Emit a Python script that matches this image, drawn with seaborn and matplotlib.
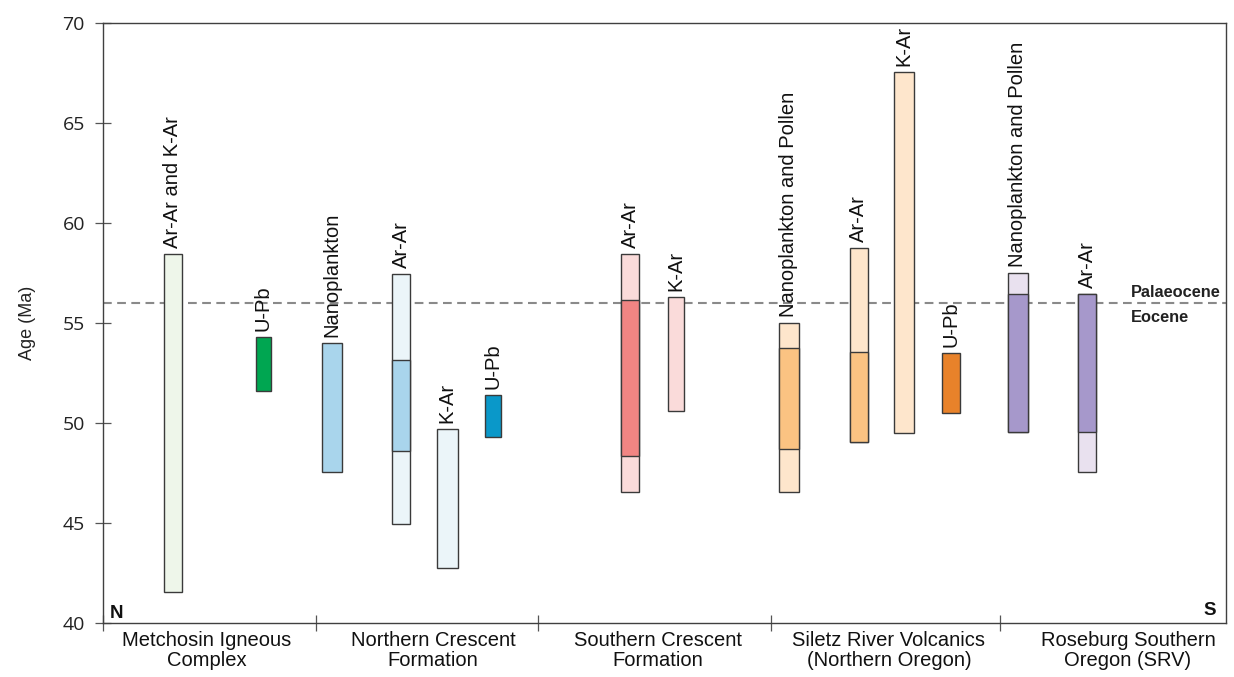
import numpy as np
import matplotlib
matplotlib.use("Agg")
import matplotlib.pyplot as plt
import seaborn as sns

# ---------------------------------------------------------------- data
groups = [
    "Metchosin Igneous\nComplex",
    "Northern Crescent\nFormation",
    "Southern Crescent\nFormation",
    "Siletz River Volcanics\n(Northern Oregon)",
    "Roseburg Southern\nOregon (SRV)",
]

methods = [
    "Ar-Ar and K-Ar", "U-Pb",
    "Nanoplankton", "Ar-Ar", "K-Ar", "U-Pb",
    "Ar-Ar", "K-Ar",
    "Nanoplankton and Pollen", "Ar-Ar", "K-Ar", "U-Pb",
    "Nanoplankton and Pollen", "Ar-Ar",
]
bar_group = [0, 0, 1, 1, 1, 1, 2, 2, 3, 3, 3, 3, 4, 4]

# full age range of each bar (Ma)
age_max = [58.45, 54.3, 54.0, 57.45, 49.7, 51.4, 58.45, 56.3, 55.0, 58.75, 67.55, 53.5, 57.5, 56.45]
age_min = [41.55, 51.6, 47.55, 44.95, 42.75, 49.3, 46.55, 50.6, 46.55, 49.05, 49.5, 50.5, 49.55, 47.55]

# preferred (core) age range inside the bar, nan where there is none
nan = np.nan
core_max = [nan, nan, nan, 53.15, nan, nan, 56.15, nan, 53.75, 53.55, nan, nan, 56.45, 56.45]
core_min = [nan, nan, nan, 48.6, nan, nan, 48.35, nan, 48.7, 49.05, nan, nan, 49.55, 49.55]

# shade used for the full range of each bar
fill_level = ["light", "dark", "mid", "light", "light", "dark",
              "light", "light", "light", "light", "light", "dark",
              "light", "light"]

boundary_age = 56.0  # Palaeocene / Eocene boundary

# ---------------------------------------------------------------- style
palettes = [
    {"light": "#eef6ea", "mid": "#9fd3a5", "dark": "#00a651"},
    {"light": "#ebf5f9", "mid": "#a9d5ec", "dark": "#0a98c9"},
    {"light": "#fadbda", "mid": "#f18583", "dark": "#e0474c"},
    {"light": "#fee6cc", "mid": "#fbc382", "dark": "#e8822a"},
    {"light": "#e9e1ef", "mid": "#a698cb", "dark": "#7d6bb0"},
]

# horizontal layout (axis units span the plot width)
x_span = 1123
bar_x = [69.5, 160, 229, 298, 344, 390, 527, 573, 686, 755.5, 800.5, 847.5, 914.5, 984]
bar_w = [18, 15, 20, 18, 21, 16, 18, 16, 20, 18, 20, 18, 20, 18]
group_edges = [0, 213, 435, 668, 897]
group_label_x = [104, 330, 554.5, 786, 1025]

sns.set_theme(style="white")
plt.rcParams["font.family"] = ["Liberation Sans", "DejaVu Sans"]

edge = "#3a3a3a"
spine_col = "#404040"

fig = plt.figure(figsize=(12.34, 6.77), dpi=100)
ax = fig.add_axes([103 / 1234, 54 / 677, 1123 / 1234, 600 / 677])

# epoch boundary, behind the bars
ax.axhline(boundary_age, color="#8a8a8a", lw=1.5, dashes=(4.2, 2.6), zorder=1)

for i, m in enumerate(methods):
    pal = palettes[bar_group[i]]
    lo, hi = age_min[i], age_max[i]
    ax.bar(bar_x[i], hi - lo, bottom=lo, width=bar_w[i],
           color=pal[fill_level[i]], edgecolor=edge, linewidth=1.0, zorder=3)
    if not np.isnan(core_max[i]):
        ax.bar(bar_x[i], core_max[i] - core_min[i], bottom=core_min[i],
               width=bar_w[i], color=pal["mid"], edgecolor=edge,
               linewidth=1.0, zorder=4)
    ax.annotate(m, (bar_x[i], hi), xytext=(0, 4.5), textcoords="offset points",
                rotation=90, ha="center", va="bottom", fontsize=14.5,
                color="#111111", zorder=5)

ax.set_xlim(0, x_span)
ax.set_ylim(40, 70)

# y axis
ax.set_yticks(np.arange(40, 71, 5))
ax.tick_params(axis="y", which="major", direction="inout", length=11, width=0.9,
               color="#555555", pad=7.5, labelsize=14, labelcolor="#222222",
               left=True)
for t in ax.get_yticklabels():
    t.set_fontfamily(["Open Sans", "DejaVu Sans"])

# x axis: separators as major ticks, group names as minor tick labels
ax.set_xticks(group_edges)
ax.set_xticklabels([""] * len(group_edges))
ax.set_xticks(group_label_x, minor=True)
ax.set_xticklabels(groups, minor=True, fontsize=14.5, color="#111111")
for t in ax.get_xticklabels(minor=True):
    t.set_linespacing(1.12)
ax.tick_params(axis="x", which="major", direction="inout", length=11.5,
               width=0.9, color="#555555", bottom=True)
ax.tick_params(axis="x", which="minor", length=0, pad=5.5, bottom=True)

for s in ax.spines.values():
    s.set_color(spine_col)
    s.set_linewidth(1.0)

fig.text(27 / 1234, 1 - 323 / 677, "Age (Ma)", rotation=90, ha="center",
         va="center", fontsize=13, color="#222222")

ax.text(1028, 56.29, "Palaeocene", fontsize=11.8, fontweight="bold",
        ha="left", va="baseline", color="#222222")
ax.text(1028, 55.07, "Eocene", fontsize=11.8, fontweight="bold",
        ha="left", va="baseline", color="#222222")
ax.text(7, 40.25, "N", fontsize=13.5, fontweight="bold", ha="left",
        va="baseline", color="#111111")
ax.text(1113, 40.4, "S", fontsize=13.5, fontweight="bold", ha="right",
        va="baseline", color="#111111")

fig.savefig("out.png", dpi=100)
